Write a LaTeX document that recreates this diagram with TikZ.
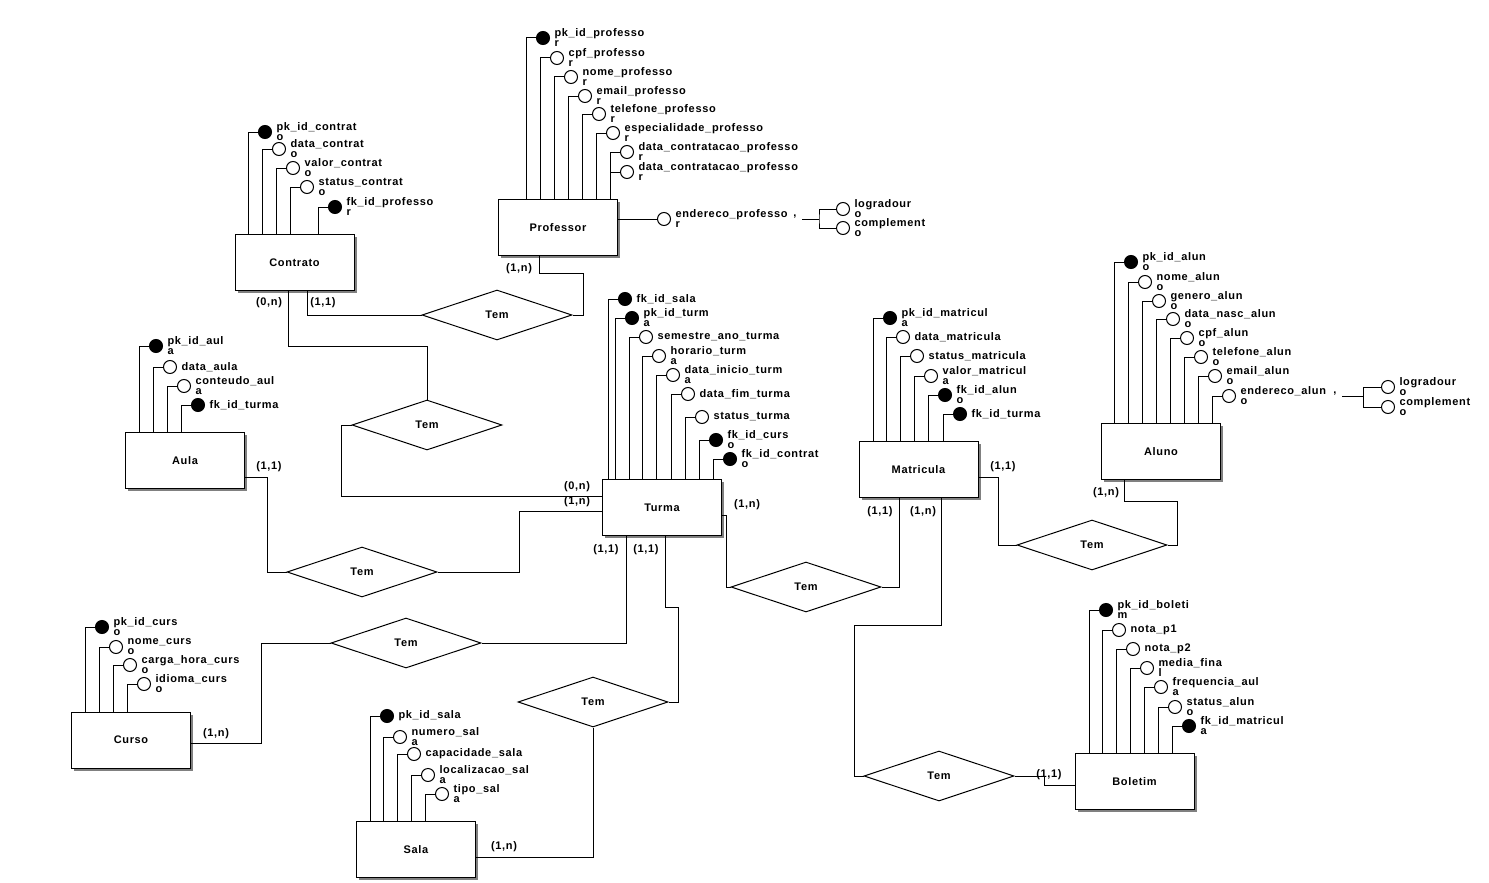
\documentclass[tikz,border=0pt]{standalone}
\usepackage{fontspec}
\setmainfont{Liberation Sans}[LetterSpace=6]
\usetikzlibrary{shapes.geometric,shadows}
\begin{document}
\begin{tikzpicture}[x=1pt,y=-1pt,line width=1pt,font=\fontsize{11}{10}\selectfont\bfseries,
entity/.style={draw,fill=white,minimum width=119pt,minimum height=56pt,inner sep=0pt,drop shadow={shadow xshift=2.5pt,shadow yshift=-2.5pt,fill=gray,opacity=1}},
rel/.style={diamond,draw,fill=white,minimum width=150pt,minimum height=50pt,inner sep=0pt},
plainatt/.style={circle,draw,fill=white,minimum size=13pt,inner sep=0pt},
keyatt/.style={plainatt,fill=black},
albl/.style={anchor=west,inner sep=0pt,xshift=4pt,align=left},
card/.style={inner sep=0pt}]
\useasboundingbox(0,0)rectangle(1489,883);
\node[entity](prof)at(558,227.5){Professor};
\node[entity](contr)at(294.5,262.5){Contrato};
\node[entity](aula)at(185,460.5){Aula};
\node[entity](turma)at(662,507.5){Turma};
\node[entity](matr)at(918.5,469.5){Matricula};
\node[entity](aluno)at(1161,451.5){Aluno};
\node[entity](curso)at(131,740){Curso};
\node[entity](sala)at(416,849.5){Sala};
\node[entity](bolet)at(1134.5,781.5){Boletim};
\node[rel](r1)at(497,315){Tem};
\node[rel](r2)at(427,425){Tem};
\node[rel](r3)at(362,572){Tem};
\node[rel](r4)at(406,643){Tem};
\node[rel](r5)at(593,702){Tem};
\node[rel](r6)at(806,587){Tem};
\node[rel](r7)at(1092,545){Tem};
\node[rel](r8)at(939,776){Tem};
\foreach \ent/\items in {
prof/{543/38/pk\_id\_professo\\r/keyatt,557/58/cpf\_professo\\r/plainatt,571/77/nome\_professo\\r/plainatt,585/96/email\_professo\\r/plainatt,599/114/telefone\_professo\\r/plainatt,613/133/especialidade\_professo\\r/plainatt,627/152/data\_contratacao\_professo\\r/plainatt,627/172/data\_contratacao\_professo\\r/plainatt},
contr/{265/132/pk\_id\_contrat\\o/keyatt,279/149/data\_contrat\\o/plainatt,293/168/valor\_contrat\\o/plainatt,307/187/status\_contrat\\o/plainatt,335/207/fk\_id\_professo\\r/keyatt},
aula/{156/346/pk\_id\_aul\\a/keyatt,170/367/data\_aula/plainatt,184/386/conteudo\_aul\\a/plainatt,198/405/fk\_id\_turma/keyatt},
turma/{625/299/fk\_id\_sala/keyatt,632/318/pk\_id\_turm\\a/keyatt,646/337/semestre\_ano\_turma/plainatt,659/356/horario\_turm\\a/plainatt,673/375/data\_inicio\_turm\\a/plainatt,688/394/data\_fim\_turma/plainatt,702/417/status\_turma/plainatt,716/440/fk\_id\_curs\\o/keyatt,730/459/fk\_id\_contrat\\o/keyatt},
matr/{890/318/pk\_id\_matricul\\a/keyatt,903/337/data\_matricula/plainatt,917/356/status\_matricula/plainatt,931/376/valor\_matricul\\a/plainatt,945/395/fk\_id\_alun\\o/keyatt,960/414/fk\_id\_turma/keyatt},
aluno/{1131/262/pk\_id\_alun\\o/keyatt,1145/282/nome\_alun\\o/plainatt,1159/301/genero\_alun\\o/plainatt,1173/319/data\_nasc\_alun\\o/plainatt,1187/338/cpf\_alun\\o/plainatt,1201/357/telefone\_alun\\o/plainatt,1215/376/email\_alun\\o/plainatt,1229/396/endereco\_alun\\o/plainatt},
bolet/{1106/610/pk\_id\_boleti\\m/keyatt,1119/630/nota\_p1/plainatt,1133/649/nota\_p2/plainatt,1147/668/media\_fina\\l/plainatt,1161/687/frequencia\_aul\\a/plainatt,1175/707/status\_alun\\o/plainatt,1189/726/fk\_id\_matricul\\a/keyatt},
curso/{102/627/pk\_id\_curs\\o/keyatt,116/647/nome\_curs\\o/plainatt,130/665/carga\_hora\_curs\\o/plainatt,144/684/idioma\_curs\\o/plainatt},
sala/{387/716/pk\_id\_sala/keyatt,400/737/numero\_sal\\a/plainatt,414/754/capacidade\_sala/plainatt,428/775/localizacao\_sal\\a/plainatt,442/794/tipo\_sal\\a/plainatt}}{
\foreach \cx/\cy/\txt/\sty[count=\i]in \items{
\node[\sty](\ent-\i)at(\cx,\cy){};
\node[albl](\ent-l\i)at(\ent-\i.east){\txt};
\draw(\ent-\i.west)-|([xshift=-9.5pt]\ent-\i.west|-\ent.north);
}}
\node[plainatt](pend)at(664,219){};
\node[albl](pend-l)at(pend.east){endereco\_professo\\r};
\draw(pend.west)--(pend.west-|prof.east);
\node[card](ptick)at(795,217){,};
\coordinate(pj)at(819,219);
\node[plainatt](plog)at(843,209){};
\node[albl](plog-l)at(plog.east){logradour\\o};
\node[plainatt](pcomp)at(843,228){};
\node[albl](pcomp-l)at(pcomp.east){complement\\o};
\draw([xshift=5pt]ptick.east|-pj)--(pj);
\draw(plog.west)-|(pj)|-(pcomp.west);
\node[card](atick)at(1335,394){,};
\coordinate(aj)at(1363,396);
\node[plainatt](alog)at(1388,387){};
\node[albl](alog-l)at(alog.east){logradour\\o};
\node[plainatt](acomp)at(1388,407){};
\node[albl](acomp-l)at(acomp.east){complement\\o};
\draw([xshift=5pt]atick.east|-aj)--(aj);
\draw(alog.west)-|(aj)|-(acomp.west);
\draw([xshift=-19pt]prof.south)|-++(44,17)|-(r1.east);
\draw([xshift=12.5pt]contr.south)|-(r1.west);
\draw([xshift=-6.5pt]contr.south)--++(0,55)-|(r2.north);
\draw(r2.west)--++(-10,0)|-([yshift=11.5pt]turma.west);
\draw([yshift=-16.5pt]aula.east)--++(22.5,0)|-(r3.west);
\draw(r3.east)--++(82,0)|-([yshift=-3.5pt]turma.west);
\draw([xshift=-36pt]turma.south)|-(r4.east);
\draw(r4.west)--++(-69,0)|-([yshift=-3pt]curso.east);
\draw([xshift=3pt]turma.south)--++(0,71.5)--++(13,0)|-(r5.east);
\draw(r5.south)|-([yshift=-7.5pt]sala.east);
\draw([yshift=-7.5pt]turma.east)--++(4.5,0)|-(r6.west);
\draw(r6.east)-|([xshift=-19.5pt]matr.south);
\draw([xshift=22.5pt]matr.south)--++(0,127.5)--++(-87,0)|-(r8.west);
\draw(r8.east)--++(30,0)|-([yshift=-3.5pt]bolet.west);
\draw([yshift=-7.5pt]matr.east)--++(19.5,0)|-(r7.west);
\draw([xshift=-37pt]aluno.south)--++(0,21.5)--++(53,0)|-(r7.east);
\node[card](k1)at(519,269){(1,n)};
\node[card](k2)at(269,303){(0,n)};
\node[card](k3)at(323,303){(1,1)};
\node[card](k4)at(269,467){(1,1)};
\node[card](k5)at(577,487){(0,n)};
\node[card](k6)at(577,502){(1,n)};
\node[card](k7)at(606,550){(1,1)};
\node[card](k8)at(646,550){(1,1)};
\node[card](k9)at(747,505){(1,n)};
\node[card](k10)at(216,734){(1,n)};
\node[card](k11)at(504,847){(1,n)};
\node[card](k12)at(880,512){(1,1)};
\node[card](k13)at(923,512){(1,n)};
\node[card](k14)at(1003,467){(1,1)};
\node[card](k15)at(1106,493){(1,n)};
\node[card](k16)at(1049,775){(1,1)};
\end{tikzpicture}
\end{document}
